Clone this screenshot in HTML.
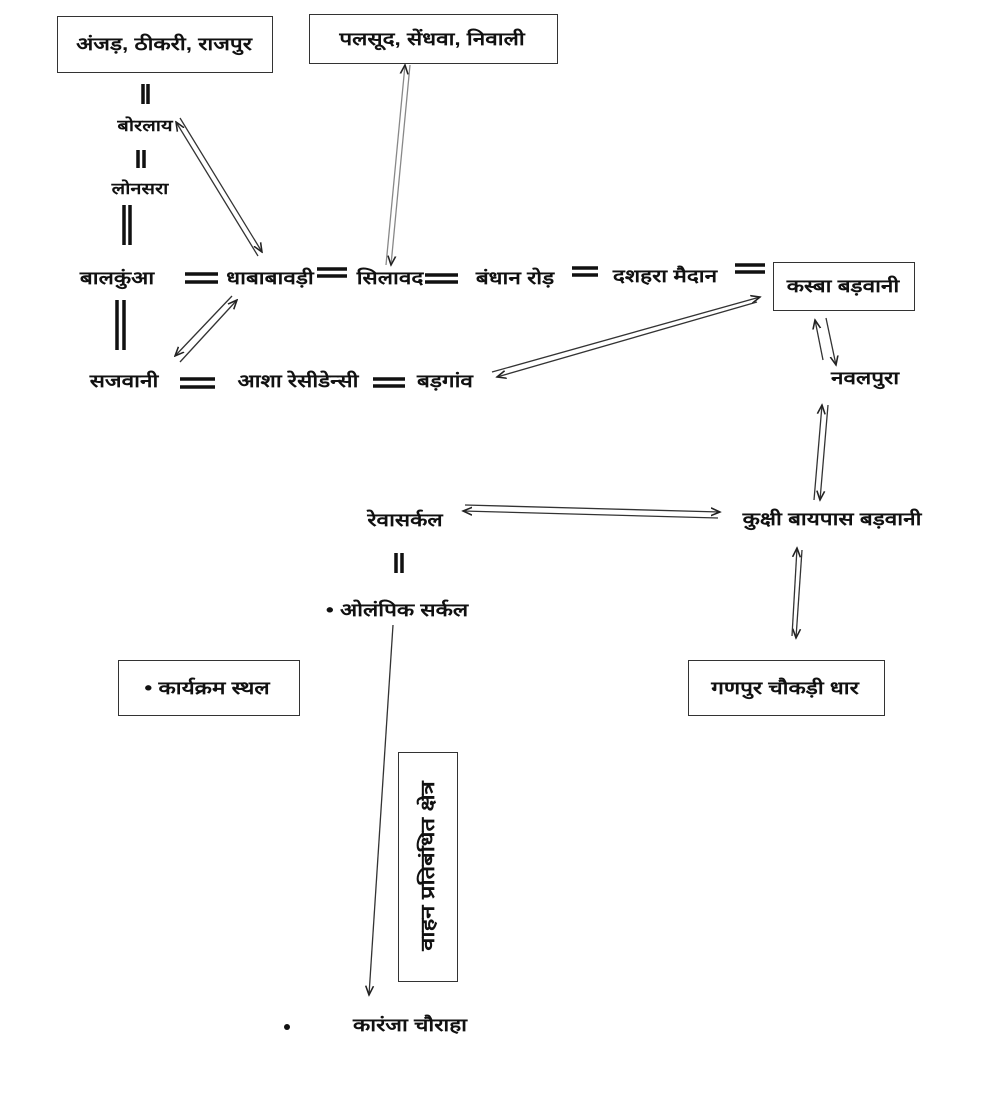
<!DOCTYPE html>
<html><head><meta charset="utf-8"><style>
html,body{margin:0;padding:0;background:#fff;}
body{width:992px;height:1116px;position:relative;overflow:hidden;font-family:"Liberation Sans","DejaVu Sans",sans-serif;color:#111;}
.t{position:absolute;font-size:18px;font-weight:bold;white-space:nowrap;transform:translate(-50%,-50%) scaleX(1.25);}
.b{position:absolute;border:1.5px solid #333;background:#fff;}
svg{position:absolute;left:0;top:0;}
</style></head><body>
<svg width="992" height="1116" viewBox="0 0 992 1116">
<defs><marker id="a" markerWidth="8" markerHeight="8" refX="7" refY="4" orient="auto"><path d="M0,1 L7,4 L0,7" fill="none" stroke="#222" stroke-width="1.2"/></marker></defs>
<g stroke="#333" stroke-width="1.3" fill="none">
<line x1="180" y1="118" x2="262" y2="252" marker-end="url(#a)"/><line x1="258" y1="256" x2="176" y2="122" marker-end="url(#a)"/>
<line x1="410" y1="65" x2="391" y2="265" marker-end="url(#a)" stroke="#888"/><line x1="386" y1="265" x2="405" y2="65" marker-end="url(#a)" stroke="#888"/>
<line x1="232" y1="296" x2="175" y2="356" marker-end="url(#a)"/><line x1="180" y1="362" x2="237" y2="300" marker-end="url(#a)"/>
<line x1="492" y1="372" x2="760" y2="297" marker-end="url(#a)"/><line x1="757" y1="302" x2="497" y2="377" marker-end="url(#a)"/>
<line x1="823" y1="360" x2="815" y2="320" marker-end="url(#a)"/><line x1="826" y1="318" x2="836" y2="365" marker-end="url(#a)"/>
<line x1="814" y1="500" x2="822" y2="405" marker-end="url(#a)"/><line x1="828" y1="405" x2="820" y2="500" marker-end="url(#a)"/>
<line x1="465" y1="505" x2="720" y2="512" marker-end="url(#a)"/><line x1="718" y1="518" x2="463" y2="511" marker-end="url(#a)"/>
<line x1="802" y1="550" x2="796" y2="638" marker-end="url(#a)"/><line x1="792" y1="636" x2="797" y2="548" marker-end="url(#a)"/>
<line x1="393" y1="625" x2="369" y2="995" marker-end="url(#a)"/>
</g>
<g stroke="#111" stroke-width="3.5">
<line x1="143" y1="84" x2="143" y2="104"/><line x1="148" y1="84" x2="148" y2="104"/>
<line x1="138" y1="150" x2="138" y2="168"/><line x1="144" y1="150" x2="144" y2="168"/>
<line x1="124" y1="205" x2="124" y2="245"/><line x1="130" y1="205" x2="130" y2="245"/>
<line x1="117" y1="300" x2="117" y2="350"/><line x1="124" y1="300" x2="124" y2="350"/>
<line x1="396" y1="553" x2="396" y2="573"/><line x1="402" y1="553" x2="402" y2="573"/>
<line x1="185" y1="274" x2="218" y2="274"/><line x1="185" y1="282" x2="218" y2="282"/>
<line x1="317" y1="269" x2="347" y2="269"/><line x1="317" y1="276" x2="347" y2="276"/>
<line x1="425" y1="275" x2="458" y2="275"/><line x1="425" y1="282" x2="458" y2="282"/>
<line x1="572" y1="268" x2="598" y2="268"/><line x1="572" y1="275" x2="598" y2="275"/>
<line x1="735" y1="265" x2="765" y2="265"/><line x1="735" y1="272" x2="765" y2="272"/>
<line x1="180" y1="379" x2="215" y2="379"/><line x1="180" y1="387" x2="215" y2="387"/>
<line x1="373" y1="379" x2="405" y2="379"/><line x1="373" y1="386" x2="405" y2="386"/>
</g>
<circle cx="287" cy="1027" r="3" fill="#111"/>
</svg>
<div class="b" style="left:57px;top:16px;width:214px;height:55px"></div>
<div class="t" style="left:164px;top:44px">अंजड़, ठीकरी, राजपुर</div>
<div class="b" style="left:309px;top:14px;width:247px;height:48px"></div>
<div class="t" style="left:432px;top:39px">पलसूद, सेंधवा, निवाली</div>
<div class="t" style="left:145px;top:125px;font-size:16px">बोरलाय</div>
<div class="t" style="left:140px;top:188px;font-size:16px">लोनसरा</div>
<div class="t" style="left:117px;top:278px">बालकुंआ</div>
<div class="t" style="left:270px;top:278px">धाबाबावड़ी</div>
<div class="t" style="left:390px;top:278px">सिलावद</div>
<div class="t" style="left:515px;top:278px">बंधान रोड़</div>
<div class="t" style="left:665px;top:276px">दशहरा मैदान</div>
<div class="b" style="left:773px;top:262px;width:140px;height:47px"></div>
<div class="t" style="left:843px;top:286px">कस्बा बड़वानी</div>
<div class="t" style="left:124px;top:381px">सजवानी</div>
<div class="t" style="left:298px;top:381px">आशा रेसीडेन्सी</div>
<div class="t" style="left:445px;top:381px">बड़गांव</div>
<div class="t" style="left:865px;top:378px">नवलपुरा</div>
<div class="t" style="left:405px;top:520px">रेवासर्कल</div>
<div class="t" style="left:832px;top:519px">कुक्षी बायपास बड़वानी</div>
<div class="t" style="left:397px;top:610px">• ओलंपिक सर्कल</div>
<div class="b" style="left:118px;top:660px;width:180px;height:54px"></div>
<div class="t" style="left:207px;top:688px">• कार्यक्रम स्थल</div>
<div class="b" style="left:688px;top:660px;width:195px;height:54px"></div>
<div class="t" style="left:785px;top:688px">गणपुर चौकड़ी धार</div>
<div class="b" style="left:398px;top:752px;width:58px;height:228px"></div>
<div class="t" style="left:427px;top:866px;transform:translate(-50%,-50%) rotate(-90deg) scaleX(1.25);font-size:19px">वाहन प्रतिबंधित क्षेत्र</div>
<div class="t" style="left:410px;top:1025px">कारंजा चौराहा</div>
</body></html>
